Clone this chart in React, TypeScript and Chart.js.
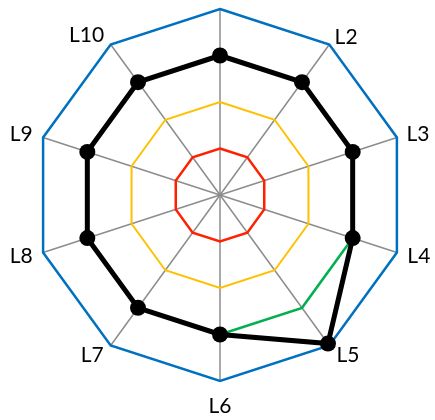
import React, { useEffect, useRef } from 'react';
import { Chart, registerables } from 'chart.js';

Chart.register(...registerables);

// ---- data ----
const categories = ['L1', 'L2', 'L3', 'L4', 'L5', 'L6', 'L7', 'L8', 'L9', 'L10'];
const mainSeries = [3, 3, 3, 3, 3.95, 3, 3, 3, 3, 3];
const greenSeries = [null, null, null, 3, 3, 3, null, null, null, null];
const outerRing = [4, 4, 4, 4, 4, 4, 4, 4, 4, 4];
const middleRing = [2, 2, 2, 2, 2, 2, 2, 2, 2, 2];
const innerRing = [1, 1, 1, 1, 1, 1, 1, 1, 1, 1];
const scaleMin = 0;
const scaleMax = 4;

// ---- style ----
const labelPadding = [25, 9, 10, 11, 12, 25, 12, 11, 11, 11];

export default function App() {
  const ref = useRef<HTMLCanvasElement | null>(null);

  useEffect(() => {
    if (!ref.current) return;
    const chart = new Chart(ref.current, {
      type: 'radar',
      data: {
        labels: categories,
        datasets: [
          {
            data: mainSeries,
            borderColor: '#000000',
            backgroundColor: '#000000',
            borderWidth: 5,
            pointRadius: 8,
            pointBorderWidth: 0,
            pointBackgroundColor: '#000000',
            fill: false,
          },
          {
            data: greenSeries as any,
            borderColor: '#00b050',
            borderWidth: 2.5,
            pointRadius: 0,
            spanGaps: false,
            fill: false,
          },
          {
            data: outerRing,
            borderColor: '#0070c0',
            borderWidth: 2.5,
            pointRadius: 0,
            fill: false,
          },
          {
            data: middleRing,
            borderColor: '#ffc000',
            borderWidth: 2,
            pointRadius: 0,
            fill: false,
          },
          {
            data: innerRing,
            borderColor: '#ff2000',
            borderWidth: 2.5,
            pointRadius: 0,
            fill: false,
          },
        ],
      },
      options: {
        responsive: false,
        devicePixelRatio: 1,
        animation: false,
        layout: { padding: { left: 0, right: 0, top: 0, bottom: 27 } },
        plugins: {
          legend: { display: false },
          tooltip: { enabled: false },
        },
        elements: { line: { tension: 0 } },
        scales: {
          r: {
            min: scaleMin,
            max: scaleMax,
            ticks: { display: false, stepSize: 1 },
            grid: { display: false },
            angleLines: { display: true, color: '#8c8c8c', lineWidth: 1.5 },
            pointLabels: {
              display: true,
              color: '#000000',
              font: { family: 'Lato', size: 21, lineHeight: 0 },
              padding: (ctx: any) => labelPadding[ctx.index],
              callback: (label: string, index: number) => (index === 0 ? '' : label),
            },
          },
        },
      },
    });
    return () => chart.destroy();
  }, []);

  return (
    <div style={{ position: 'absolute', left: 0, top: 0, width: 435, height: 420, overflow: 'hidden' }}>
      <canvas
        ref={ref}
        width={480}
        height={450}
        style={{ position: 'absolute', left: -20, top: -16 }}
      />
    </div>
  );
}
